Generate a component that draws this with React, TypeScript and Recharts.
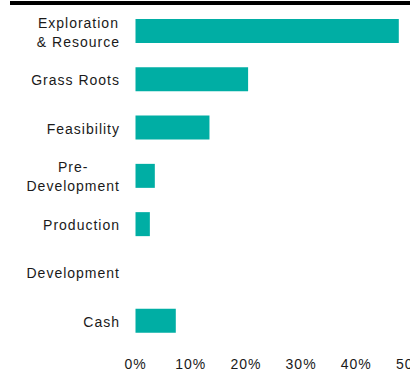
import { Bar, BarChart, XAxis, YAxis } from 'recharts';

const categories = [
  'Exploration\n& Resource',
  'Grass Roots',
  'Feasibility',
  'Pre-\nDevelopment',
  'Production',
  'Development',
  'Cash',
];
const shares = [47.7, 20.4, 13.4, 3.5, 2.6, 0, 7.3];
const xTicks = [0, 10, 20, 30, 40, 50];

const data = categories.map((name, i) => ({ name, value: shares[i] }));

const TEAL = '#00aea4';
const FONT = 'Arial, "Liberation Sans", sans-serif';
const LETTER = 1;

let ctx: CanvasRenderingContext2D | null = null;
function measure(text: string) {
  if (!ctx) ctx = document.createElement('canvas').getContext('2d');
  if (!ctx) return text.length * 7;
  ctx.font = `14px ${FONT}`;
  return ctx.measureText(text).width + LETTER * text.length;
}

function CategoryTick({ x, y, payload }: any) {
  const lines = String(payload.value).split('\n');
  const blockW = Math.max(...lines.map(measure));
  const cx = x - blockW / 2;
  const lineH = 19;
  const top = y - ((lines.length - 1) * lineH) / 2;
  return (
    <g>
      {lines.map((ln, i) => (
        <text
          key={i}
          x={cx + LETTER / 2}
          y={top + i * lineH}
          dy="0.42em"
          textAnchor="middle"
          fontSize={14}
          fontFamily={FONT}
          letterSpacing={LETTER}
          fill="#1a1a1a"
        >
          {ln}
        </text>
      ))}
    </g>
  );
}

export default function App() {
  return (
    <div
      style={{
        position: 'absolute',
        left: 0,
        top: 0,
        width: 410,
        height: 370,
        overflow: 'hidden',
        background: '#fff',
      }}
    >
      <div
        style={{ position: 'absolute', left: 10, top: 1, width: 400, height: 4, background: '#000' }}
      />
      <BarChart
        layout="vertical"
        width={440}
        height={370}
        data={data}
        margin={{ top: 7, right: 28.5, bottom: 0, left: 0 }}
        barCategoryGap={12}
      >
        <XAxis
          type="number"
          domain={[0, 50]}
          ticks={xTicks}
          tickFormatter={(v: number) => `${v}%`}
          axisLine={false}
          tickLine={false}
          tickSize={0}
          tickMargin={14}
          height={25}
          interval={0}
          tick={{ fontSize: 14, fontFamily: FONT, fill: '#1a1a1a', letterSpacing: LETTER }}
        />
        <YAxis
          type="category"
          dataKey="name"
          width={135.5}
          axisLine={false}
          tickLine={false}
          tickSize={0}
          tickMargin={16}
          interval={0}
          tick={<CategoryTick />}
        />
        <Bar dataKey="value" fill={TEAL} isAnimationActive={false} />
      </BarChart>
    </div>
  );
}
